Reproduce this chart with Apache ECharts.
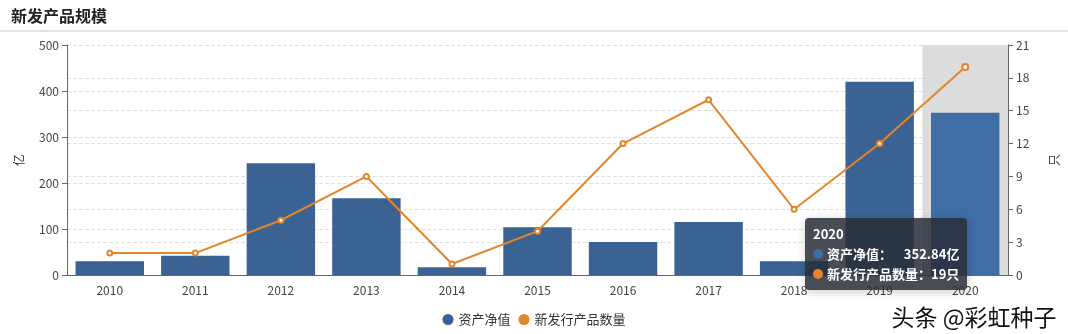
<html>
  <head>
    <meta charset="utf-8" />
    <script src="https://cdn.jsdelivr.net/npm/echarts@6.0.0/dist/echarts.min.js"></script>
    <style>
      body {
        height: 100vh;
        width: 100vw;
        margin: 0;
        background: #fff;
      }

      #main {
        width: 1068px;
        height: 334px;
      }
    </style>
  </head>
  <body>
    <div id="main"></div>
    <script>
      var years = ['2010', '2011', '2012', '2013', '2014', '2015', '2016', '2017', '2018', '2019', '2020'];
      var netAssets = [30, 42, 243, 167, 17, 104, 72, 115, 30, 420, 352.84];
      var newProducts = [2, 2, 5, 9, 1, 4, 12, 16, 6, 12, 19];

      var font = '"PingFang SC", "Noto Sans CJK SC", sans-serif';
      var hovered = 10;

      var myChart = echarts.init(document.querySelector('#main'), null, { renderer: 'canvas' });

      myChart.setOption({
        color: ['#3a6394', '#e2862b'],
        textStyle: { fontFamily: font },
        title: {
          text: '新发产品规模',
          left: 6,
          top: 3,
          textStyle: { fontSize: 16, fontWeight: 'bold', color: '#222', fontFamily: font },
        },
        graphic: [
          {
            type: 'line',
            shape: { x1: 0, y1: 31, x2: 1068, y2: 31 },
            style: { stroke: '#c8c8c8', lineWidth: 1 },
          },
          {
            type: 'text',
            right: 10,
            bottom: 4,
            style: {
              text: '头条 @彩虹种子',
              fontSize: 23,
              fill: '#111',
              stroke: '#fff',
              lineWidth: 3,
              fontFamily: font,
            },
            z: 100,
          },
        ],
        grid: {
          left: 67,
          right: 53,
          top: 45,
          bottom: 59,
        },
        legend: {
          bottom: 3,
          left: 'center',
          icon: 'circle',
          itemWidth: 11,
          itemHeight: 11,
          itemGap: 8,
          textStyle: { fontSize: 13, color: '#333' },
          data: ['资产净值', '新发行产品数量'],
        },
        tooltip: {
          trigger: 'axis',
          alwaysShowContent: true,
          position: [805, 218],
          backgroundColor: 'rgba(40,45,55,0.85)',
          borderWidth: 0,
          padding: [6, 8],
          axisPointer: {
            type: 'shadow',
            z: 0,
            shadowStyle: { color: '#dcdcdc', opacity: 1 },
          },
          formatter: function (params) {
            var dot = function (c) {
              return '<span style="display:inline-block;width:10px;height:10px;border-radius:5px;background:' + c + ';margin-right:4px"></span>';
            };
            var s = '<div style="font-weight:bold;font-size:13px">' + params[0].name + '</div>';
            params.forEach(function (p) {
              var unit = p.seriesIndex === 0 ? '亿' : '只';
              var label = p.seriesIndex === 0 ? '资产净值：&nbsp;&nbsp;&nbsp;&nbsp;' : '新发行产品数量：';
              s += '<div style="font-weight:bold">' + dot(p.color) + label + p.value + unit + '</div>';
            });
            return s;
          },
          textStyle: { color: '#fff', fontSize: 13, fontFamily: font },
        },
        xAxis: [
          {
            type: 'category',
            data: years,
            axisLine: { lineStyle: { color: '#666' } },
            axisTick: { lineStyle: { color: '#666' } },
            axisLabel: { color: '#444', fontSize: 12, margin: 9 },
          },
        ],
        yAxis: [
          {
            type: 'value',
            name: '亿',
            nameLocation: 'middle',
            nameGap: 42,
            nameRotate: 90,
            nameTextStyle: { color: '#333', fontSize: 12 },
            min: 0,
            max: 500,
            interval: 100,
            axisLine: { show: true, lineStyle: { color: '#666' } },
            axisTick: { show: true, lineStyle: { color: '#666' } },
            axisLabel: { color: '#444', fontSize: 12 },
            splitLine: { lineStyle: { type: 'dashed', color: '#e0e0e0' } },
          },
          {
            type: 'value',
            name: '只',
            nameLocation: 'middle',
            nameGap: 40,
            nameRotate: 90,
            nameTextStyle: { color: '#333', fontSize: 12 },
            min: 0,
            max: 21,
            interval: 3,
            axisLine: { show: true, lineStyle: { color: '#666' } },
            axisTick: { show: true, lineStyle: { color: '#666' } },
            axisLabel: { color: '#444', fontSize: 12 },
            splitLine: { lineStyle: { type: 'dashed', color: '#e0e0e0' } },
          },
        ],
        series: [
          {
            name: '资产净值',
            type: 'bar',
            barWidth: '80%',
            z: 5,
            itemStyle: {
              color: function (p) {
                return p.dataIndex === hovered ? '#3f6ea6' : '#3a6394';
              },
            },
            emphasis: { disabled: true },
            data: netAssets,
          },
          {
            name: '新发行产品数量',
            type: 'line',
            yAxisIndex: 1,
            z: 6,
            symbol: 'emptyCircle',
            symbolSize: 5,
            itemStyle: { color: '#e2862b' },
            lineStyle: { width: 2, color: '#e2862b' },
            emphasis: { disabled: true },
            data: newProducts,
          },
        ],
      });

      setTimeout(function () {
        myChart.dispatchAction({ type: 'showTip', seriesIndex: 0, dataIndex: hovered });
      }, 100);
    </script>
  </body>
</html>
